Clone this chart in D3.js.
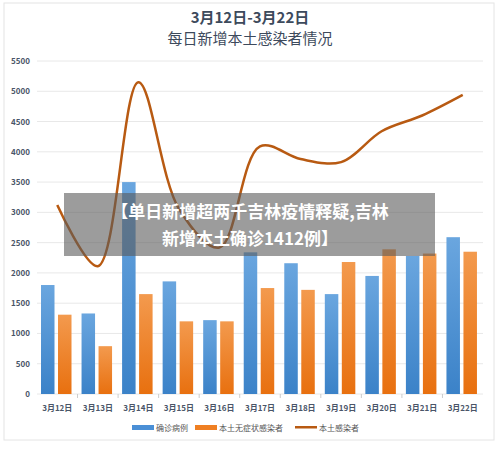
<!DOCTYPE html><html><head><meta charset="utf-8"><script src="https://cdn.jsdelivr.net/npm/d3@7"></script>
<style>body{margin:0;background:#fff}text{font-family:"Noto Sans CJK SC",sans-serif}</style></head><body><svg id="c" width="500" height="449"></svg>
<script>
const categories=["3月12日","3月13日","3月14日","3月15日","3月16日","3月17日","3月18日","3月19日","3月20日","3月21日","3月22日"];
const confirmed=[1800,1330,3500,1860,1220,2340,2160,1650,1950,2280,2590];
const asymptomatic=[1310,790,1650,1200,1200,1750,1720,2180,2390,2320,2350];
const total=[3120,2110,5150,3060,2420,4090,3880,3830,4340,4600,4940];
const yTicks=[0,500,1000,1500,2000,2500,3000,3500,4000,4500,5000,5500];
const svg=d3.select("#c");
svg.append("rect").attr("x",4).attr("y",3).attr("width",490).attr("height",437).attr("fill","#fff").attr("stroke","#e4e4e4");
svg.append("text").attr("x",250).attr("y",23).attr("text-anchor","middle").attr("font-size",15).attr("font-weight","bold").attr("fill","#3d4a5c").text("3月12日-3月22日");
svg.append("text").attr("x",250).attr("y",44).attr("text-anchor","middle").attr("font-size",15).attr("fill","#3d4a5c").text("每日新增本土感染者情况");
const x=d3.scaleBand().domain(categories).range([37,483]);
const y=d3.scaleLinear().domain([0,5500]).range([394,61]);
const g=svg.append("g");
yTicks.forEach(t=>{g.append("line").attr("x1",37).attr("x2",483).attr("y1",y(t)).attr("y2",y(t)).attr("stroke","#e8e8e8");
g.append("text").attr("x",30).attr("y",y(t)+3).attr("text-anchor","end").attr("font-size",8).attr("font-weight","bold").attr("fill","#4a5568").text(t);});
categories.forEach((c,i)=>{g.append("text").attr("x",x(c)+x.bandwidth()/2).attr("y",411).attr("text-anchor","middle").attr("font-size",8).attr("font-weight","bold").attr("fill","#4a5568").text(c);
if(i>0)g.append("line").attr("x1",x(c)).attr("x2",x(c)).attr("y1",394).attr("y2",398).attr("stroke","#ccc");});
const defs=svg.append("defs");
[["gb","#6aa6df","#3b82c8"],["go","#f39a4e","#e8700f"]].forEach(([id,a,b])=>{const lg=defs.append("linearGradient").attr("id",id).attr("x1",0).attr("x2",0).attr("y1",0).attr("y2",1);lg.append("stop").attr("offset",0).attr("stop-color",a);lg.append("stop").attr("offset",1).attr("stop-color",b);});
const bw=13.5;
g.selectAll(".b").data(confirmed).join("rect").attr("x",(d,i)=>x(categories[i])+4).attr("y",d=>y(d)).attr("width",bw).attr("height",d=>394-y(d)).attr("fill","url(#gb)");
g.selectAll(".o").data(asymptomatic).join("rect").attr("x",(d,i)=>x(categories[i])+21).attr("y",d=>y(d)).attr("width",bw).attr("height",d=>394-y(d)).attr("fill","url(#go)");
const line=d3.line().x((d,i)=>x(categories[i])+x.bandwidth()/2).y(d=>y(d)).curve(d3.curveCatmullRom.alpha(0.5));
g.append("path").attr("d",line(total)).attr("fill","none").attr("stroke","#b85a12").attr("stroke-width",2.5);
const lg=svg.append("g").attr("font-size",8).attr("fill","#555");
lg.append("rect").attr("x",132).attr("y",425).attr("width",22).attr("height",5).attr("fill","#4a8fd6");
lg.append("text").attr("x",156).attr("y",431).text("确诊病例");
lg.append("rect").attr("x",195).attr("y",425).attr("width",22).attr("height",5).attr("fill","#ef7f22");
lg.append("text").attr("x",219).attr("y",431).text("本土无症状感染者");
lg.append("rect").attr("x",295).attr("y",426).attr("width",22).attr("height",2.5).attr("fill","#b85a12");
lg.append("text").attr("x",319).attr("y",431).text("本土感染者");
svg.append("rect").attr("x",64).attr("y",193).attr("width",371).attr("height",63).attr("fill","rgba(90,90,90,0.6)");
svg.append("text").attr("x",250).attr("y",218).attr("text-anchor","middle").attr("font-size",17).attr("font-weight","bold").attr("fill","#fff").text("【单日新增超两千吉林疫情释疑,吉林");
svg.append("text").attr("x",250).attr("y",245).attr("text-anchor","middle").attr("font-size",17).attr("font-weight","bold").attr("fill","#fff").text("新增本土确诊1412例】");
</script></body></html>
